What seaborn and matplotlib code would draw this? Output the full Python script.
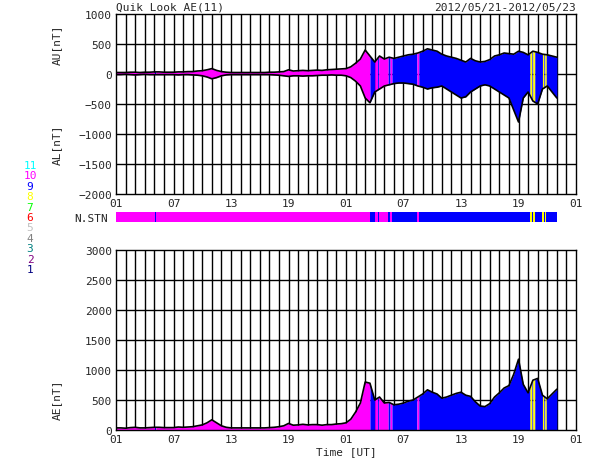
import matplotlib
matplotlib.use('Agg')
import matplotlib.pyplot as plt
import seaborn as sns
import numpy as np

sns.set_style('white')
plt.rcParams['font.family'] = ['DejaVu Sans Mono']
plt.rcParams['font.size'] = 8

# half-hourly values from 01 UT on 2012/05/21
au = [25, 25, 25, 30, 30, 25, 30, 30, 35, 35,
      30, 30, 30, 35, 35, 40, 40, 50, 55, 70,
      90, 60, 40, 30, 25, 25, 25, 25, 25, 25,
      25, 25, 30, 30, 35, 40, 70, 50, 55, 60,
      55, 60, 65, 60, 70, 75, 80, 85, 90, 120,
      180, 250, 400, 300, 200, 300, 250, 280, 260, 280,
      300, 320, 330, 350, 380, 420, 400, 380, 330, 300,
      280, 260, 230, 200, 260, 220, 200, 210, 240, 300,
      320, 350, 340, 330, 380, 360, 320, 380, 360, 330,
      320, 300, 280]
al = [-10, -10, -5, -10, -15, -10, -5, -10, -10, -10,
      -10, -10, -10, -15, -10, -10, -15, -20, -30, -50,
      -80, -60, -30, -15, -10, -10, -10, -10, -10, -10,
      -10, -10, -10, -15, -20, -30, -40, -30, -30, -35,
      -30, -30, -25, -20, -20, -15, -20, -20, -30, -60,
      -120, -200, -400, -480, -300, -250, -200, -180, -160, -150,
      -150, -160, -170, -200, -220, -250, -230, -220, -200, -250,
      -300, -350, -400, -380, -300, -250, -200, -180, -200, -250,
      -300, -350, -400, -600, -800, -400, -300, -450, -500, -250,
      -200, -300, -400]

# station count segments (hours)
seg_start = [0.0, 4.05, 4.15, 26.5, 27.0, 27.3, 27.4, 28.4, 28.6, 28.8, 31.4, 31.6, 43.2, 43.4, 43.5, 43.7, 44.5, 44.65, 44.75, 44.9]
seg_end   = [4.05, 4.15, 26.5, 27.0, 27.3, 27.4, 28.4, 28.6, 28.8, 31.4, 31.6, 43.2, 43.4, 43.5, 43.7, 44.5, 44.65, 44.75, 44.9, 46.0]
seg_n     = [10, 9, 10, 9, 10, 9, 10, 9, 10, 9, 10, 9, 8, 9, 8, 9, 8, 9, 8, 9]

stn_colors = {1: '#000080', 2: '#800080', 3: '#008080', 4: '#808080', 5: '#c0c0c0',
              6: '#ff0000', 7: '#00ff00', 8: '#ffff00', 9: '#0000ff', 10: '#ff00ff', 11: '#00ffff'}

hours = np.arange(len(au)) * 0.5
au = np.array(au, float)
al = np.array(al, float)
ae = au - al
tick_labels = ['01', '07', '13', '19', '01', '07', '13', '19', '01']

fig = plt.figure(figsize=(5.9, 4.6), dpi=100)
ax1 = fig.add_axes([116/590, 1-195/460, 460/590, 180/460])
axb = fig.add_axes([116/590, 1-223/460, 460/590, 10/460])
ax2 = fig.add_axes([116/590, 1-431/460, 460/590, 180/460])


def seg_xy(s, e):
    inside = hours[(hours > s) & (hours < e)]
    return np.concatenate([[s], inside, [e]])


for s, e, n in zip(seg_start, seg_end, seg_n):
    c = stn_colors[n]
    x = seg_xy(s, e)
    ax1.fill_between(x, np.interp(x, hours, al), np.interp(x, hours, au), color=c, lw=0)
    ax2.fill_between(x, 0, np.interp(x, hours, ae), color=c, lw=0)
    axb.axvspan(s, e, color=c, lw=0)

ax1.plot(hours, au, color='black', lw=1.2)
ax1.plot(hours, al, color='black', lw=1.2)
ax2.plot(hours, ae, color='black', lw=1.2)

for ax, lo, hi in [(ax1, -2000, 1000), (ax2, 0, 3000)]:
    ax.set_xlim(0, 48)
    ax.set_ylim(lo, hi)
    ax.set_yticks(np.arange(lo, hi + 1, 500))
    ax.set_xticks(np.arange(0, 49, 6), tick_labels)
    for h in range(1, 48):
        ax.axvline(h, color='black', lw=1, zorder=0.5)
    for v in range(lo + 500, hi, 500):
        ax.axhline(v, color='black', lw=1, zorder=0.5)
    ax.tick_params(length=0, labelsize=8, pad=3)
    for sp in ax.spines.values():
        sp.set_color('black')
        sp.set_linewidth(1)

axb.set_xlim(0, 48)
axb.set_xticks([])
axb.set_yticks([])
for sp in axb.spines.values():
    sp.set_visible(False)

fig.text(116/590, 1-8/460, 'Quik Look AE(11)', ha='left', va='center')
fig.text(576/590, 1-8/460, '2012/05/21-2012/05/23', ha='right', va='center')
fig.text(57/590, 1-45/460, 'AU[nT]', rotation=90, ha='center', va='center')
fig.text(57/590, 1-145/460, 'AL[nT]', rotation=90, ha='center', va='center')
fig.text(57/590, 1-400/460, 'AE[nT]', rotation=90, ha='center', va='center')
fig.text(108/590, 1-219/460, 'N.STN', ha='right', va='center')
fig.text(346/590, 1-452/460, 'Time [UT]', ha='center', va='center')
for i, n in enumerate(range(11, 0, -1)):
    fig.text(30/590, 1-(166 + i*10.4)/460, str(n), color=stn_colors[n], ha='center', va='center')

fig.savefig('out.png', dpi=100, facecolor='white')
